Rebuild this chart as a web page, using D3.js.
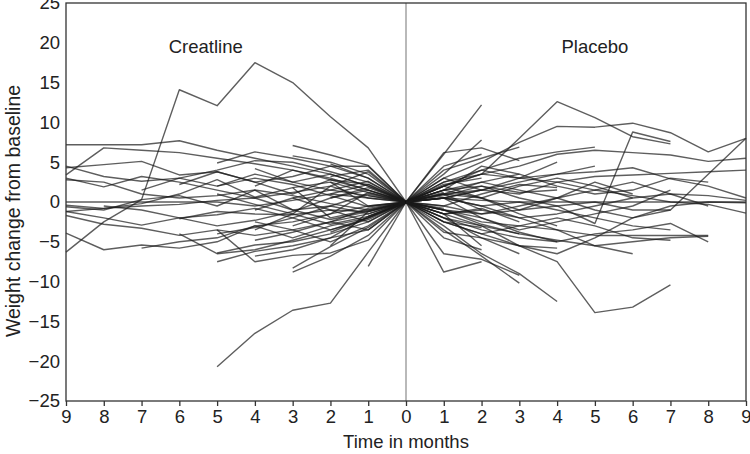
<!DOCTYPE html>
<html><head><meta charset="utf-8">
<script src="https://cdn.jsdelivr.net/npm/d3@7"></script>
<style>body{margin:0;background:#fff}svg{display:block}</style>
</head><body>
<svg id="c" width="750" height="454"></svg>
<script>
// Values: weight change from baseline, index = month (0..n)
const creatine = [
  [0, 6.8, 10.7, 15, 17.5, 12.1, 14.1, 0.3, -1, -0.6],
  [0, -6.3, -12.7, -13.6, -16.5, -20.7],
  [0, -8.1],
  [0, -4.2, -6.8, -8.8],
  [0, -3.2, -5.6, -8.3],
  [0, -4.8, -6.4, -6.7, -7.5, -3.5],
  [0, -3.5, -4.5, -5.5, -6.2, -7.5],
  [0, -2.5, -4.0, -5.0, -5.4, -6.4],
  [0, 4.6, 5.9, 7.1],
  [0, 2, 3.5, 4.5, 5.5, 6.5, 7.7, 7.2, 7.2, 7.2],
  [0, 1.5, 3, 4, 4.8, 5.5, 6.2, 6.5, 6.8, 3.4],
  [0, 4.5, 4.5, 3.2, 2.5, 3.8, 3.4, 5.1, 4.7, 4.3],
  [0, 3.8, 2.0, 1.2, 0.5, 1.5, 2.5, 3.2, 1.9, 3.0],
  [0, -1.0, -0.2, 0.8, 1.5, 0.8, 0.5, 1.0, 2.5, 2.8],
  [0, 0.5, 1.0, 0.2, -0.5, 0, 0, 0, 0, 0],
  [0, -1.5, -0.5, -1.0, 0.5, 0.2, -0.3, -0.5, -0.8, -0.4],
  [0, -2, -3.5, -2.0, -0.8, -1.6, -2.0, -2.9, -2.0, -1.2],
  [0, -1.5, -2.5, -3.5, -4.2, -3.5, -4.2, -3.3, -2.8, -1.7],
  [0, -2, -3, -4.5, -3.0, -5.0, -5.8, -5.4, -6.0, -3.9],
  [0, -1.2, -2.2, -1.0, 1.5, -0.5, 0.8, 0.3, -2.5, -6.3],
  [0, 1.2, 2.5, 1.8, 0.6, 2.8, 1.0, -0.2, -0.8, -1.2],
  [0, 0.8, 1.5, 2.5, 3.5, 2.0, 3.0, 2.6, 3.2, 4.5],
  [0, 2.5, 3.8, 5.0, 5.2, 4.0, 3.0, 1.5],
  [0, -0.5, -1.5, -2.5, -3.0, -4.5, -5.0, -5.8],
  [0, 1.8, 0.5, -1.2, -2.3, -3.0, -2.0, -1.0, -0.5],
  [0, 3.0, 4.5, 5.5, 6.3, 4.9],
  [0, -1.2, -1.0, -1.6, -1.5, -1.2, -2.1],
  [0, 2.2, 2.8, 1.0, 2.5, 3.8, 2.2],
  [0, -0.6, 0.8, 2.2, 3.0, 2.0],
  [0, -2.2, -3.5, -4.8, -6.0, -6.5, -4.0],
  [0, 1.0, -0.5, -2.0, -3.2, -4.0],
  [0, -1.8, -2.8, -1.5, -0.3, 1.0],
  [0, 1.5, 2.8, 4.0, 2.0],
  [0, -0.8, -2.5, -3.8, -4.8],
  [0, 2.6, 1.5, 0.5, -1.0],
  [0, -1.8, -4.5, -6.0, -6.8],
  [0, 0.5, 2.0, -1.5, -3.5],
  [0, 3.5, 5.0, 5.8],
  [0, -2.5, -1.0, 0.5],
  [0, 1.2, -1.5, -3.0],
  [0, -1.0, -2.0, 1.8],
  [0, 2.0, 3.5, 2.5, 4.2],
  [0, -3.0, -5.0, -3.5, -2.5],
  [0, 3.0, 4.8],
  [0, -2.0, -3.8],
  [0, 1.5, 0.5],
  [0, -1.2, -5.5],
  [0, 2.2, 1.0],
  [0, -3.5, -2.5],
  [0, 0.8],
  [0, -1.8],
  [0, 4.0, 3.2],
  [0, -0.5, 2.5]
];
const placebo = [
  [0, 6, 12.2],
  [0, 2.0, 3.5, 8.0, 12.6, 10.6, 8.2, 7.3],
  [0, 3.0, 5.0, 7.5, 9.5, 9.4, 9.9, 8.7, 6.3, 8.0],
  [0, 1.0, 0.5, -1.0, -0.5, -2.7, 8.8, 7.6],
  [0, 1.5, 2.0, 0.5, -0.5, 0, -1.0, -1.0, 3.5, 8.0],
  [0, -2.5, -4.0, -5.5, -7.5, -13.9, -13.2, -10.4],
  [0, -8.8, -7.5],
  [0, -6.5, -7.2, -9.2],
  [0, -3.5, -6.8, -10.2],
  [0, -3.0, -6.5, -9.0, -12.5],
  [0, -2.0, -3.5, -4.5, -5.0, -4.0, -3.5, -2.7, -5.0],
  [0, -1.0, -2.5, -3.0, -3.5, -4.2, -4.2, -4.2, -4.2],
  [0, 2.0, 3.5, 4.5, 6.0, 6.5, 6.2, 5.9, 5.1, 5.5],
  [0, 1.0, 1.5, 2.5, 3.5, 3.8, 4.3, 2.9, 2.0, 0.5],
  [0, 0.5, 1.5, 1.0, 2.5, 3.2, 3.4, 3.6, 3.8, 4.0],
  [0, -1.0, -1.5, -0.5, 0.5, 1.5, 0.8, 0.0, -0.3, -1.4],
  [0, 0.5, -0.5, -2.0, -1.5, -0.5, 0.5, 1.0, 0.8, 0.2],
  [0, 1.5, 2.5, 1.5, 0.5, -1.0, -2.0, -0.5, 0, -0.1],
  [0, 0.5, 0.2, 0, 0, 0, 0, 0, 0, 0],
  [0, 6.2, 6.8, 5.2],
  [0, 3.5, 7.8],
  [0, 4.0, 5.5, 6.9],
  [0, 2.5, 4.0, 3.0, 5.0],
  [0, 1.5, 4.5, 3.5],
  [0, 0.8, 2.0, 1.2, 1.5],
  [0, -1.5, -0.8, -2.5],
  [0, -2.0, -4.5, -5.5, -5.8],
  [0, -1.0, -2.8, -4.0],
  [0, 2.0, 0.5, -1.5, -3.0],
  [0, -0.5, 1.0, 2.2, 1.8],
  [0, 3.0, 1.5],
  [0, -2.5, -3.2],
  [0, 1.0, -1.0],
  [0, -1.5, -5.5],
  [0, 2.2, 3.0],
  [0, -0.8],
  [0, 1.2],
  [0, -3.8, -4.5, -6.5],
  [0, 0.5, -2.0, -3.8, -5.0],
  [0, -4.5, -6.0],
  [0, 4.5, 6.0],
  [0, 2.0, 4.0, 5.5, 6.3, 6.9],
  [0, 0.5, 1.5, 3.0, 2.5, 1.5, 2.5, 1.0, -0.5],
  [0, -1.0, -2.0, -3.5, -2.5, -1.5, -0.5, 1.5],
  [0, 1.5, 0.5, 2.0, 3.0, 2.0, 0.5],
  [0, -2.0, -3.0, -5.5, -6.5, -4.5, -2.0, -1.0],
  [0, 1.0, 2.5, 3.5, 2.0, 1.0, 1.5, 3.0, 2.5],
  [0, -0.5, -1.5, -1.0, 0.5, 2.5, 1.0],
  [0, 2.5, 3.5, 3.0, 3.5, 4.5],
  [0, -1.5, -1.0, -2.0, -3.5, -5.5, -6.5],
  [0, 0.5, -0.5, 0.0, -1.0, -2.0, -3.0, -3.5],
  [0, -1.5, -3.0, -4.0, -4.8, -5.5, -5.0, -4.5, -4.3],
  [0, -2.5, -4.0, -3.0, -2.0, -3.0, -4.5, -4.8]
];
const xTicks = [-9,-8,-7,-6,-5,-4,-3,-2,-1,0,1,2,3,4,5,6,7,8,9];
const yTicks = [-25,-20,-15,-10,-5,0,5,10,15,20,25];
const groupLabels = ["Creatline", "Placebo"];

const svg = d3.select("#c");
const L = 66, R = 746, T = 3, B = 401;
const x = d3.scaleLinear().domain([-9, 9]).range([L, R]);
const y = d3.scaleLinear().domain([-25, 25]).range([B, T]);
const font = "Liberation Sans, Arial, Helvetica, sans-serif";

// center line
svg.append("line").attr("x1", x(0)).attr("x2", x(0)).attr("y1", T).attr("y2", B)
  .attr("stroke", "#a8a8a8").attr("stroke-width", 1.6);

const line = d3.line().x(d => x(d[0])).y(d => y(d[1]));
const g = svg.append("g").attr("fill", "none").attr("stroke", "#1a1a1a")
  .attr("stroke-opacity", 0.7).attr("stroke-width", 1.4).attr("stroke-linejoin", "round");
creatine.forEach(s => g.append("path").attr("d", line(s.map((v, i) => [-i, v]))));
placebo.forEach(s => g.append("path").attr("d", line(s.map((v, i) => [i, v]))));

// frame
svg.append("rect").attr("x", L).attr("y", T).attr("width", R - L).attr("height", B - T)
  .attr("fill", "none").attr("stroke", "#333").attr("stroke-width", 1.3);

// x axis
const xa = svg.append("g").attr("transform", `translate(0,${B})`)
  .call(d3.axisBottom(x).tickValues(xTicks).tickFormat(d => Math.abs(d)).tickSize(5).tickPadding(4));
xa.select(".domain").remove();
xa.selectAll("line").attr("stroke", "#333").attr("stroke-width", 1.3);
xa.selectAll("text").attr("font-family", font).attr("font-size", 18.5).attr("fill", "#222");

// y axis
const ya = svg.append("g").attr("transform", `translate(${L},0)`)
  .call(d3.axisLeft(y).tickValues(yTicks).tickFormat(d => d < 0 ? "\u2212" + Math.abs(d) : d).tickSize(0).tickPadding(6));
ya.select(".domain").remove();
ya.selectAll("text").attr("font-family", font).attr("font-size", 18.5).attr("fill", "#222");

// titles
svg.append("text").attr("x", x(0)).attr("y", 448).attr("text-anchor", "middle")
  .attr("font-family", font).attr("font-size", 18.5).attr("fill", "#222").text("Time in months");
svg.append("text").attr("transform", "translate(20,211) rotate(-90)").attr("text-anchor", "middle")
  .attr("font-family", font).attr("font-size", 19.5).attr("fill", "#222").text("Weight change from baseline");
svg.append("text").attr("x", x(-5.3)).attr("y", 53).attr("text-anchor", "middle")
  .attr("font-family", font).attr("font-size", 18.5).attr("fill", "#222").text(groupLabels[0]);
svg.append("text").attr("x", x(5)).attr("y", 53).attr("text-anchor", "middle")
  .attr("font-family", font).attr("font-size", 18.5).attr("fill", "#222").text(groupLabels[1]);
</script>
</body></html>
